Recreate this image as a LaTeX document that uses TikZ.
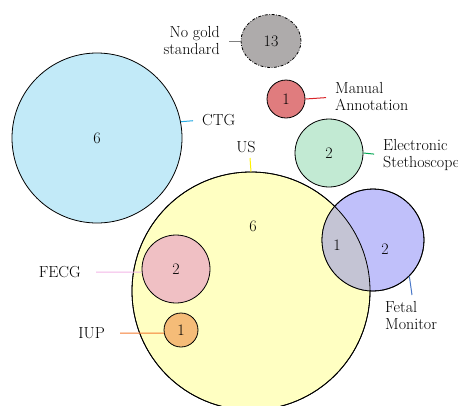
\documentclass[tikz,border=0pt]{standalone}
\usetikzlibrary{shapes.geometric}
\definecolor{ctgc}{HTML}{C2EAF8}
\definecolor{grayc}{HTML}{AEABAB}
\definecolor{redc}{HTML}{E07C7E}
\definecolor{greenc}{HTML}{C2EAD3}
\definecolor{yelc}{HTML}{FFFFC2}
\definecolor{bluec}{HTML}{C0C0FA}
\definecolor{ovc}{HTML}{C4C4D4}
\definecolor{pinkc}{HTML}{F0C0C4}
\definecolor{orc}{HTML}{F5BC78}
\definecolor{lctg}{HTML}{29ABE2}
\definecolor{lred}{HTML}{D9252A}
\definecolor{lgreen}{HTML}{00A651}
\definecolor{lgray}{HTML}{808080}
\definecolor{lyel}{HTML}{FFF200}
\definecolor{lblue}{HTML}{4A78C8}
\definecolor{lpink}{HTML}{F2B6E6}
\definecolor{lor}{HTML}{F47B30}
\begin{document}
\begin{tikzpicture}[x=1pt,y=-1pt,
  bub/.style={circle, draw=black, line width=0.8pt, inner sep=0pt, font=\fontsize{16}{17}\selectfont},
  lab/.style={inner sep=0pt, font=\fontsize{16}{17}\selectfont},
  num/.style={inner sep=0pt, font=\fontsize{16}{17}\selectfont},
  con/.style={line width=1pt}]
\useasboundingbox (0,0) rectangle (458,405);
% big groups
\node[bub, fill=yelc, minimum size=238pt] (us) at (251,291) {};
\node[bub, fill=bluec, minimum size=102pt] (fm) at (373,240) {};
\begin{scope}
  \clip (us.center) circle[radius=119pt];
  \fill[ovc] (fm.center) circle[radius=51pt];
\end{scope}
\draw[line width=0.8pt] (us.center) circle[radius=119pt];
\draw[line width=0.8pt] (fm.center) circle[radius=51pt];
\node[num] (usn) at (253,226) {6};
\node[num] (ovn) at (337,245) {1};
\node[num] (fmn) at (385,249) {2};
\node[bub, fill=ctgc, minimum size=170pt] (ctg) at (97,138) {6};
\node[bub, ellipse, fill=grayc, dash pattern=on 3pt off 1.5pt on 0.8pt off 1.5pt, minimum width=60pt, minimum height=53pt] (ngs) at (271,41) {13};
\node[bub, fill=redc, minimum size=38pt] (ma) at (286,99) {1};
\node[bub, fill=greenc, minimum size=68pt] (es) at (329,153) {2};
\node[bub, fill=pinkc, minimum size=68pt] (fecg) at (176,269) {2};
\node[bub, fill=orc, minimum size=34pt] (iup) at (181,330) {1};
% labels
\node[lab, align=right, anchor=east] (ngslab) at (220,41) {No gold\\standard};
\node[lab, align=left, anchor=west] (malab) at (335,97) {Manual\\Annotation};
\node[lab, align=left, anchor=west] (eslab) at (383,155) {Electronic\\Stethoscope};
\node[lab, anchor=west] (ctglab) at (202,120) {CTG};
\node[lab] (uslab) at (246,147) {US};
\node[lab, align=left, anchor=west] (fmlab) at (385,316) {Fetal\\Monitor};
\node[lab, anchor=east] (fecglab) at (81,272) {FECG};
\node[lab, anchor=east] (iuplab) at (105,333) {IUP};
% connectors
\draw[con, lgray, shorten >=9pt] (ngs.west) -- (ngslab.east);
\draw[con, lred, shorten >=9pt] (ma.east) -- (malab.west);
\draw[con, lgreen, shorten >=9pt] (es.east) -- (eslab.west);
\draw[con, lctg, shorten >=9pt] (ctg.11) -- (ctglab.west);
\coordinate (usend) at (250,158);
\draw[con, lyel] (us.north) -- (usend);
\coordinate (fmend) at (412,295);
\draw[con, lblue] (fm.-45) -- (fmend);
\draw[con, lpink, shorten >=15pt] (fecg.185) -- (fecglab.east);
\draw[con, lor, shorten >=15pt] (iup.190) -- (iuplab.east);
\end{tikzpicture}
\end{document}
